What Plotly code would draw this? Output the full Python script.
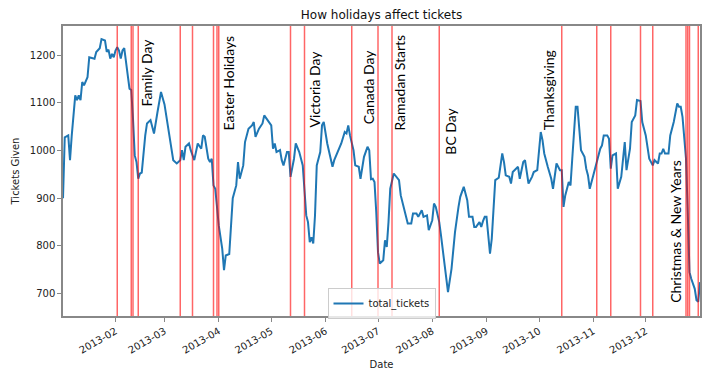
import plotly.graph_objects as go

# ---- data ----
dates = [
    "2013-01-02", "2013-01-03", "2013-01-05", "2013-01-06", "2013-01-07", "2013-01-09", "2013-01-10",
    "2013-01-11", "2013-01-12", "2013-01-13", "2013-01-14", "2013-01-16", "2013-01-17", "2013-01-19",
    "2013-01-20", "2013-01-21", "2013-01-23", "2013-01-24", "2013-01-26", "2013-01-27", "2013-01-28",
    "2013-01-29", "2013-01-30", "2013-01-31", "2013-02-01", "2013-02-02", "2013-02-03", "2013-02-04",
    "2013-02-05", "2013-02-06", "2013-02-07", "2013-02-08", "2013-02-09", "2013-02-10", "2013-02-11",
    "2013-02-12", "2013-02-13", "2013-02-14", "2013-02-15", "2013-02-16", "2013-02-18", "2013-02-19",
    "2013-02-21", "2013-02-23", "2013-02-25", "2013-02-27", "2013-03-01", "2013-03-04", "2013-03-06",
    "2013-03-08", "2013-03-10", "2013-03-11", "2013-03-12", "2013-03-13", "2013-03-15", "2013-03-16",
    "2013-03-18", "2013-03-20", "2013-03-22", "2013-03-23", "2013-03-24", "2013-03-26", "2013-03-27",
    "2013-03-28", "2013-03-29", "2013-03-30", "2013-04-01", "2013-04-03", "2013-04-04", "2013-04-05",
    "2013-04-07", "2013-04-09", "2013-04-11", "2013-04-12", "2013-04-13", "2013-04-15", "2013-04-16",
    "2013-04-18", "2013-04-20", "2013-04-21", "2013-04-22", "2013-04-24", "2013-04-26", "2013-04-27",
    "2013-04-29", "2013-05-01", "2013-05-02", "2013-05-03", "2013-05-04", "2013-05-06", "2013-05-07",
    "2013-05-08", "2013-05-10", "2013-05-11", "2013-05-12", "2013-05-14", "2013-05-15", "2013-05-17",
    "2013-05-18", "2013-05-19", "2013-05-21", "2013-05-22", "2013-05-23", "2013-05-24", "2013-05-25",
    "2013-05-26", "2013-05-27", "2013-05-29", "2013-05-30", "2013-05-31", "2013-06-02", "2013-06-03",
    "2013-06-05", "2013-06-06", "2013-06-08", "2013-06-10", "2013-06-12", "2013-06-13", "2013-06-14",
    "2013-06-15", "2013-06-17", "2013-06-18", "2013-06-20", "2013-06-21", "2013-06-23", "2013-06-25",
    "2013-06-26", "2013-06-27", "2013-06-28", "2013-06-29", "2013-06-30", "2013-07-01", "2013-07-02",
    "2013-07-04", "2013-07-05", "2013-07-06", "2013-07-07", "2013-07-08", "2013-07-10", "2013-07-11",
    "2013-07-13", "2013-07-14", "2013-07-16", "2013-07-18", "2013-07-20", "2013-07-21", "2013-07-23",
    "2013-07-24", "2013-07-26", "2013-07-27", "2013-07-29", "2013-07-30", "2013-08-01", "2013-08-02",
    "2013-08-03", "2013-08-05", "2013-08-06", "2013-08-08", "2013-08-10", "2013-08-12", "2013-08-14",
    "2013-08-16", "2013-08-17", "2013-08-19", "2013-08-21", "2013-08-22", "2013-08-24", "2013-08-25",
    "2013-08-26", "2013-08-28", "2013-08-29", "2013-08-30", "2013-08-31", "2013-09-01", "2013-09-03",
    "2013-09-04", "2013-09-05", "2013-09-06", "2013-09-08", "2013-09-10", "2013-09-11", "2013-09-12",
    "2013-09-14", "2013-09-15", "2013-09-16", "2013-09-18", "2013-09-19", "2013-09-20", "2013-09-22",
    "2013-09-23", "2013-09-24", "2013-09-25", "2013-09-27", "2013-09-28", "2013-09-30", "2013-10-01",
    "2013-10-02", "2013-10-03", "2013-10-04", "2013-10-06", "2013-10-08", "2013-10-09", "2013-10-10",
    "2013-10-11", "2013-10-13", "2013-10-14", "2013-10-15", "2013-10-16", "2013-10-18", "2013-10-19",
    "2013-10-20", "2013-10-22", "2013-10-23", "2013-10-24", "2013-10-25", "2013-10-27", "2013-10-28",
    "2013-10-29", "2013-10-30", "2013-11-01", "2013-11-02", "2013-11-03", "2013-11-05", "2013-11-06",
    "2013-11-07", "2013-11-09", "2013-11-10", "2013-11-11", "2013-11-12", "2013-11-14", "2013-11-15",
    "2013-11-17", "2013-11-18", "2013-11-19", "2013-11-20", "2013-11-22", "2013-11-23", "2013-11-24",
    "2013-11-25", "2013-11-26", "2013-11-28", "2013-11-29", "2013-12-01", "2013-12-03", "2013-12-04",
    "2013-12-05", "2013-12-06", "2013-12-08", "2013-12-09", "2013-12-10", "2013-12-11", "2013-12-12",
    "2013-12-14", "2013-12-15", "2013-12-17", "2013-12-18", "2013-12-19", "2013-12-20", "2013-12-21",
    "2013-12-22", "2013-12-23", "2013-12-24", "2013-12-25", "2013-12-26", "2013-12-27", "2013-12-29",
    "2013-12-30", "2013-12-31", "2014-01-01",
]
total_tickets = [
    900, 1028, 1032, 980, 1032, 1116, 1106,
    1116, 1106, 1144, 1137, 1154, 1196, 1193,
    1193, 1207, 1215, 1234, 1231, 1207, 1212,
    1193, 1203, 1196, 1210, 1217, 1210, 1193,
    1210, 1215, 1179, 1158, 1130, 1127, 1067,
    990, 976, 941, 952, 954, 1032, 1057,
    1064, 1036, 1081, 1123, 1097, 1029, 980,
    973, 980, 1001, 980, 1008, 1015, 1001,
    980, 1015, 1004, 1032, 1029, 983, 976,
    983, 927, 920, 843, 794, 749, 780,
    783, 900, 927, 976, 941, 969, 1018,
    1046, 1053, 1060, 1029, 1046, 1057, 1074,
    1064, 1053, 1004, 1015, 997, 1001, 980,
    969, 997, 997, 945, 983, 1015, 997,
    983, 969, 864, 850, 808, 818, 805,
    864, 969, 997, 1053, 1060, 1015, 997,
    966, 980, 997, 1015, 1039, 1036, 1053,
    1032, 1001, 969, 966, 941, 987, 1008,
    1001, 940, 941, 934, 871, 787, 763,
    770, 812, 798, 850, 920, 952, 948,
    938, 906, 875, 847, 847, 868, 868,
    861, 875, 861, 864, 833, 854, 889,
    882, 850, 822, 759, 703, 752, 829,
    882, 903, 924, 896, 861, 861, 840,
    840, 850, 840, 852, 861, 861, 784,
    815, 885, 938, 943, 994, 976, 948,
    945, 931, 955, 962, 966, 941, 976,
    980, 955, 931, 945, 955, 959, 997,
    1039, 1022, 994, 966, 941, 920, 948,
    973, 959, 959, 882, 906, 934, 927,
    983, 1092, 1092, 1046, 1001, 987, 962,
    948, 920, 948, 962, 976, 1004, 1011,
    1032, 1032, 1025, 962, 990, 994, 920,
    945, 983, 1018, 959, 1004, 1060, 1069,
    1074, 1106, 1104, 1060, 1032, 983, 976,
    969, 980, 973, 994, 994, 1004, 994,
    994, 1032, 1060, 1078, 1099, 1092, 1092,
    1071, 1032, 983, 871, 745, 731, 710,
    686, 683, 724,
]

holiday_dates = [
    "2013-02-02", "2013-02-10", "2013-02-11", "2013-02-14", "2013-03-10", "2013-03-17",
    "2013-03-29", "2013-03-31", "2013-04-01", "2013-05-12", "2013-05-20", "2013-06-16",
    "2013-07-01", "2013-07-09", "2013-08-05", "2013-10-14", "2013-11-03", "2013-11-11",
    "2013-11-28", "2013-12-05", "2013-12-24", "2013-12-25", "2013-12-26", "2013-12-31",
]

label_texts = ["Family Day", "Easter Holidays", "Victoria Day", "Canada Day",
               "Ramadan Starts", "BC Day", "Thanksgiving", "Christmas & New Years"]
label_dates = ["2013-02-16", "2013-04-04", "2013-05-23", "2013-06-23",
               "2013-07-11", "2013-08-09", "2013-10-04", "2013-12-15"]
label_values = [1091, 1040, 1046, 1053, 1040, 990, 1040, 679]

tick_dates = ["2013-02-01", "2013-03-01", "2013-04-01", "2013-05-01", "2013-06-01", "2013-07-01",
              "2013-08-01", "2013-09-01", "2013-10-01", "2013-11-01", "2013-12-01"]
tick_labels = ["2013-02", "2013-03", "2013-04", "2013-05", "2013-06", "2013-07",
               "2013-08", "2013-09", "2013-10", "2013-11", "2013-12"]
y_ticks = [700, 800, 900, 1000, 1100, 1200]

# ---- figure ----
fig = go.Figure()
fig.add_trace(go.Scatter(x=dates, y=total_tickets, mode="lines", name="total_tickets",
                         line=dict(color="#1f77b4", width=2)))

for d in holiday_dates:
    fig.add_shape(type="line", xref="x", yref="paper", x0=d, x1=d, y0=0, y1=1,
                  line=dict(color="rgba(255,0,0,0.6)", width=1.5), layer="above")

for t, d, v in zip(label_texts, label_dates, label_values):
    fig.add_annotation(x=d, y=v, text=t, textangle=-90, showarrow=False,
                       xanchor="left", yanchor="bottom", borderpad=0, xshift=-5,
                       font=dict(family="Lato", size=14, color="black"))

axis_common = dict(showline=True, linecolor="#888888", linewidth=1.5, mirror=True,
                   showgrid=False, zeroline=False, ticks="outside", ticklen=4,
                   tickcolor="#888888", automargin=False,
                   tickfont=dict(family="DejaVu Sans", size=10, color="#222222"))

fig.update_layout(
    width=712, height=362,
    margin=dict(l=55, r=20, t=18, b=54),
    paper_bgcolor="white", plot_bgcolor="white",
    title=dict(text="How holidays affect tickets", xref="paper", x=0.5, xanchor="center",
               yref="container", y=0.98, yanchor="middle",
               font=dict(family="DejaVu Sans", size=12, color="#111111")),
    showlegend=True,
    legend=dict(x=0.5, y=-0.01, xanchor="center", yanchor="bottom", itemwidth=30,
                bgcolor="rgba(255,255,255,0.8)", bordercolor="#cccccc", borderwidth=1,
                font=dict(family="DejaVu Sans", size=10, color="#222222")),
    xaxis=dict(range=["2013-01-02", "2014-01-01"], tickvals=tick_dates, ticktext=tick_labels,
               tickangle=-30, title=dict(text="Date", standoff=12,
                                         font=dict(family="DejaVu Sans", size=10, color="#222222")),
               **axis_common),
    yaxis=dict(range=[653, 1261.5], tickvals=y_ticks,
               title=dict(text="Tickets Given", standoff=8,
                          font=dict(family="DejaVu Sans", size=10, color="#222222")),
               **axis_common),
)

fig.write_html("out.html")
